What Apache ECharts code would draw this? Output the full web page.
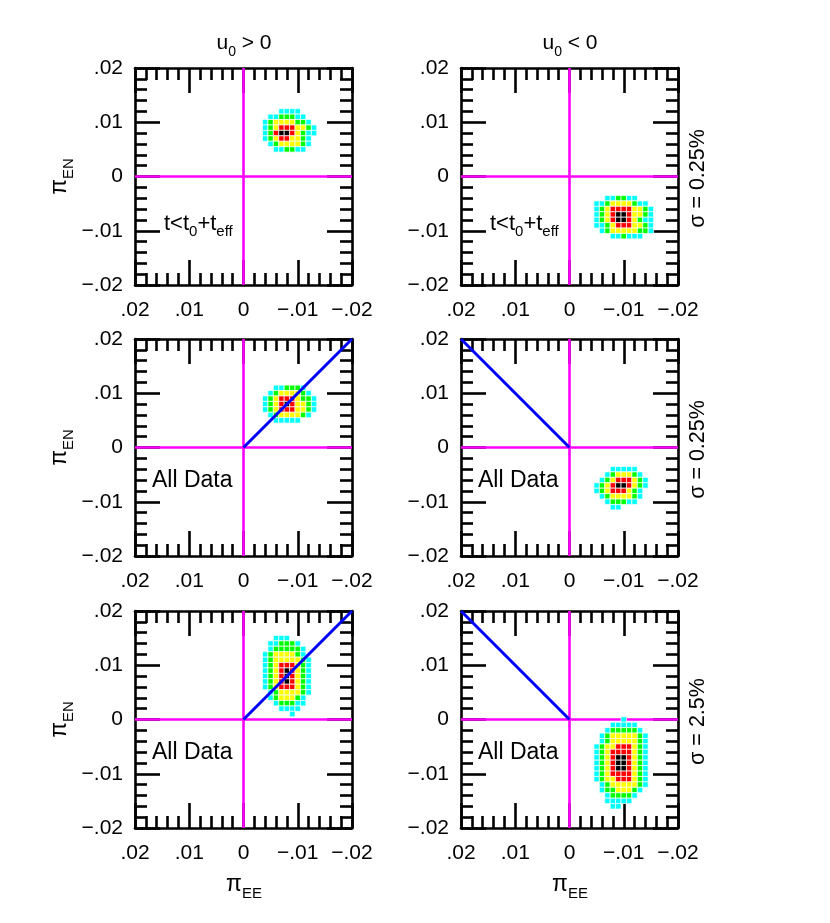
<!DOCTYPE html>
<html><head><meta charset="utf-8">
<script src="https://cdn.jsdelivr.net/npm/echarts@6/dist/echarts.min.js"></script>
<style>html,body{margin:0;padding:0;background:#fff}#c{width:830px;height:923px}</style>
</head><body><div id="c"></div>
<script>
// ---------------- data ----------------
const tickValues = [-0.02, -0.01, 0, 0.01, 0.02];
const tickLabels = ['\u2212.02', '\u2212.01', '0', '.01', '.02'];
const axisMin = -0.02, axisMax = 0.02, axisStep = 0.01;
const CELL = 0.001;

const levelColors = { c: '#00ffff', g: '#00ff00', y: '#ffff00', r: '#ff0000', k: '#000000' };

// top-left (u0>0, t<t0+teff)
const tlX = [-0.004, -0.005, -0.006, -0.007, -0.008, -0.009, -0.010, -0.011, -0.012, -0.013];
const tlY = [0.012, 0.011, 0.010, 0.009, 0.008, 0.007, 0.006, 0.005];
const tlRows = [
  "...cccc...",
  ".ccgggcc..",
  "cgyyyyggc.",
  "cgyrrryygc",
  "cgrkkrygcc",
  "cgyrryygc.",
  ".cgyyyygc.",
  "..ccggcc.."
];
// top-right (u0<0, t<t0+teff)
const trX = [-0.005, -0.006, -0.007, -0.008, -0.009, -0.010, -0.011, -0.012, -0.013, -0.014, -0.015];
const trY = [-0.004, -0.005, -0.006, -0.007, -0.008, -0.009, -0.010, -0.011];
const trRows = [
  "..ccggcc...",
  "ccgyyyygcc.",
  "cgyrrrryygc",
  "cgyrkkryygc",
  "cgyrkkrygcc",
  "ccgyrrryygc",
  ".cgyyyyyggc",
  "...ccgccc.."
];
// middle-left (u0>0, all data)
const mlX = [-0.004, -0.005, -0.006, -0.007, -0.008, -0.009, -0.010, -0.011, -0.012, -0.013];
const mlY = [0.011, 0.010, 0.009, 0.008, 0.007, 0.006, 0.005];
const mlRows = [
  "..ccgggc..",
  ".cgyyyygc.",
  "cgyrrryggc",
  "cgyrkryygc",
  "cgyrrryygc",
  ".cgyyyygc.",
  "..ccccc..."
];
// middle-right (u0<0, all data)
const mrX = [-0.005, -0.006, -0.007, -0.008, -0.009, -0.010, -0.011, -0.012, -0.013, -0.014];
const mrY = [-0.004, -0.005, -0.006, -0.007, -0.008, -0.009, -0.010, -0.011];
const mrRows = [
  "...ccccc..",
  "..cgyyygc.",
  ".cgyrrrygc",
  "cgyrkkrygc",
  "cgyrrrygc.",
  ".cgyyyygc.",
  "..cgggcc..",
  "...cc....."
];
// bottom-left (u0>0, all data, sigma 2.5%)
const blX = [-0.004, -0.005, -0.006, -0.007, -0.008, -0.009, -0.010, -0.011, -0.012];
const blY = [0.015, 0.014, 0.013, 0.012, 0.011, 0.010, 0.009, 0.008, 0.007, 0.006, 0.005, 0.004, 0.003, 0.002, 0.001];
const blRows = [
  "..ccc....",
  ".ccgggc..",
  ".cgggggc.",
  "cgyyyygc.",
  "cgyyyyygc",
  "cgyrrrygc",
  "cgyrkrygc",
  "cgyrkrygc",
  "cgyrkrygc",
  "cgyrrrygc",
  ".cgyyyygc",
  ".cgyyygc.",
  "..cgggcc.",
  "...cccc..",
  ".....c..."
];
// bottom-right (u0<0, all data, sigma 2.5%)
const brX = [-0.005, -0.006, -0.007, -0.008, -0.009, -0.010, -0.011, -0.012, -0.013, -0.014];
const brY = [0, -0.001, -0.002, -0.003, -0.004, -0.005, -0.006, -0.007, -0.008, -0.009, -0.010, -0.011, -0.012, -0.013, -0.014, -0.015, -0.016];
const brRows = [
  ".....c....",
  "...ccccc..",
  "..cgggggc.",
  ".cgyyyyygc",
  ".cgyyyyygc",
  "cgyyrrrygc",
  "cgyrrrrygc",
  "cgyrkkrygc",
  "cgyrkkrygc",
  "cgyrkkrygc",
  "cgyrrrrygc",
  "cgyyrrrygc",
  ".cgyyyyygc",
  ".cggyyygc.",
  "..cggggc..",
  "..ccccc...",
  "...cc....."
];

const zeroV = [[0, -0.02], [0, 0.02]];
const zeroH = [[-0.02, 0], [0.02, 0]];
const diagLeft = [[0, 0], [-0.02, 0.02]];
const diagRight = [[0, 0], [0.02, 0.02]];

const rowLabels = ['\u03c3 = 0.25%', '\u03c3 = 0.25%', '\u03c3 = 2.5%'];

// ---------------- layout ----------------
const FONT = '"Liberation Sans", Arial, Helvetica, sans-serif';
const gridLefts = [135, 461];
const gridTops = [68, 339, 611];
const SIZE = 217;

const panels = [
  { xs: tlX, ys: tlY, rows: tlRows, diag: null, note: 't' },
  { xs: trX, ys: trY, rows: trRows, diag: null, note: 't' },
  { xs: mlX, ys: mlY, rows: mlRows, diag: diagLeft, note: 'a' },
  { xs: mrX, ys: mrY, rows: mrRows, diag: diagRight, note: 'a' },
  { xs: blX, ys: blY, rows: blRows, diag: diagLeft, note: 'a' },
  { xs: brX, ys: brY, rows: brRows, diag: diagRight, note: 'a' }
];

function cellsOf(p) {
  const out = [];
  p.rows.forEach((row, ri) => {
    for (let ci = 0; ci < row.length; ci++) {
      const ch = row[ci];
      if (ch !== '.' && ch !== ' ') out.push([p.xs[ci], p.ys[ri], ch]);
    }
  });
  return out;
}

const lab = v => tickLabels[Math.round(v * 100) + 2];
const black = '#000';

function axisCommon(gi, pos, showLabel) {
  return {
    gridIndex: gi, type: 'value', min: axisMin, max: axisMax, interval: axisStep,
    position: pos, z: 0,
    axisLine: { show: true, onZero: false, lineStyle: { color: black, width: 2.6 } },
    axisTick: { show: true, inside: true, length: 25, lineStyle: { color: black, width: 2.6 } },
    minorTick: { show: true, splitNumber: 5, length: 12, lineStyle: { color: black, width: 2.6 } },
    splitLine: { show: false }, minorSplitLine: { show: false },
    axisLabel: { show: showLabel, formatter: lab, fontSize: 21, color: black, fontFamily: FONT,
      margin: (pos === 'bottom') ? 15 : 12 }
  };
}

const grids = [], xAxes = [], yAxes = [], series = [];
panels.forEach((p, i) => {
  const col = i % 2, row = Math.floor(i / 2);
  grids.push({ left: gridLefts[col], top: gridTops[row], width: SIZE, height: SIZE });
  const bx = Object.assign(axisCommon(i, 'bottom', true), { inverse: true });
  const tx = Object.assign(axisCommon(i, 'top', false), { inverse: true });
  xAxes.push(bx, tx);
  yAxes.push(axisCommon(i, 'left', true), axisCommon(i, 'right', false));
  const xi = 2 * i, yi = 2 * i;
  const cells = cellsOf(p);
  [zeroV, zeroH].forEach(d => series.push({
    type: 'line', xAxisIndex: xi, yAxisIndex: yi, data: d, symbol: 'none', silent: true, z: 5,
    clip: false, lineStyle: { color: '#ff00ff', width: 2.6 }, animation: false
  }));
  series.push({
    type: 'custom', xAxisIndex: xi, yAxisIndex: yi, z: 6, silent: true, animation: false,
    data: cells,
    renderItem: (params, api) => {
      const x = api.value(0), y = api.value(1);
      const lvl = cells[params.dataIndex][2];
      const a = api.coord([x - CELL / 2, y + CELL / 2]);
      const b = api.coord([x + CELL / 2, y - CELL / 2]);
      return {
        type: 'rect',
        shape: { x: Math.min(a[0], b[0]), y: Math.min(a[1], b[1]), width: Math.abs(b[0] - a[0]), height: Math.abs(b[1] - a[1]) },
        style: { fill: levelColors[lvl], stroke: '#ffffff', lineWidth: 0.7 }
      };
    }
  });
  if (p.diag) series.push({
    type: 'line', xAxisIndex: xi, yAxisIndex: yi, data: p.diag, symbol: 'none', silent: true, z: 7,
    clip: false, lineStyle: { color: '#0000ff', width: 3 }, animation: false
  });
});

// ---------------- texts ----------------
function sty(fs, lh, va) { return { fontSize: fs, lineHeight: lh, verticalAlign: va, fontFamily: FONT, fill: black }; }
const RICH = {
  m: sty(21, 26, 'top'),  s: sty(14, 14, 'bottom'),
  n: sty(22, 27, 'top'),  t: sty(15, 15, 'bottom'),
  a: sty(23, 27, 'top'),
  p: sty(23, 28, 'top'),  q: sty(15, 15, 'bottom'),
  g: sty(21.5, 26, 'top')
};

function richText(x, y, text, align, rotation) {
  return {
    type: 'text', x: x, y: y, rotation: rotation || 0, silent: true, z: 10,
    style: { text: text, rich: RICH, fontFamily: FONT, fontSize: 21, fill: black,
      align: align, verticalAlign: 'middle', textAlign: align, textVerticalAlign: 'middle' }
  };
}

const graphics = [];
graphics.push(richText(244, 46, '{m|u}{s|0}{m| > 0}', 'center'));
graphics.push(richText(570, 46, '{m|u}{s|0}{m| < 0}', 'center'));
gridTops.forEach((t, r) => {
  graphics.push(richText(62, t + SIZE / 2, '{p|\u03c0}{q|EN}', 'center', Math.PI / 2));
  graphics.push(richText(700, t + SIZE / 2 + 2, '{g|' + rowLabels[r] + '}', 'center', Math.PI / 2));
});
[244, 570].forEach(x => graphics.push(richText(x, 887, '{p|\u03c0}{q|EE}', 'center')));
panels.forEach((p, i) => {
  const col = i % 2, row = Math.floor(i / 2);
  const gl = gridLefts[col], gt = gridTops[row];
  if (p.note === 't') graphics.push(richText(gl + 29, gt + 158, '{n|t<t}{t|0}{n|+t}{t|eff}', 'left'));
  else graphics.push(richText(gl + 17, gt + 144, '{a|All Data}', 'left'));
});

const chart = echarts.init(document.getElementById('c'), null, { renderer: 'canvas' });
chart.setOption({
  animation: false,
  backgroundColor: '#ffffff',
  grid: grids, xAxis: xAxes, yAxis: yAxes, series: series, graphic: graphics
});
</script></body></html>
